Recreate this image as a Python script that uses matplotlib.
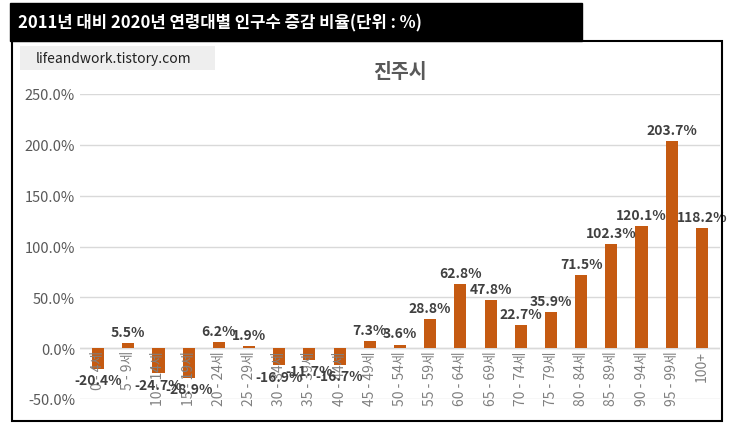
import matplotlib.pyplot as plt
from matplotlib.patches import Rectangle

plt.rcParams['font.family'] = ['Noto Sans CJK KR', 'DejaVu Sans']

categories = [f"{a} - {a + 4}세" for a in range(0, 100, 5)] + ["100+"]
values = [-20.4, 5.5, -24.7, -28.9, 6.2, 1.9, -16.9, -11.7, -16.7, 7.3, 3.6,
          28.8, 62.8, 47.8, 22.7, 35.9, 71.5, 102.3, 120.1, 203.7, 118.2]
yticks = [-50, 0, 50, 100, 150, 200, 250]

fig = plt.figure(figsize=(7.37, 4.31), dpi=100)

# outer frame and title box
fig.add_artist(Rectangle((12 / 737, 9 / 431), 710 / 737, 380 / 431,
                         transform=fig.transFigure, fill=False, lw=1.5, ec='black'))
fig.add_artist(Rectangle((10 / 737, 389 / 431), 572 / 737, 38 / 431,
                         transform=fig.transFigure, fc='black', ec='black'))
fig.text(18 / 737, 408 / 431, "2011년 대비 2020년 연령대별 인구수 증감 비율(단위 : %)",
         color='white', fontsize=12, fontweight='bold', va='center')
fig.add_artist(Rectangle((20 / 737, 360 / 431), 195 / 737, 24 / 431,
                         transform=fig.transFigure, fc='#eeeeee', ec='none'))
fig.text(36 / 737, 372 / 431, "lifeandwork.tistory.com", fontsize=10,
         style='italic', va='center', color='#222222')

ax = fig.add_axes([80 / 737, 31 / 431, 640 / 737, 305 / 431])
x = range(len(values))
ax.bar(x, values, width=0.4, color='#C55A11', zorder=2)
ax.set_ylim(-50, 250)
ax.set_xlim(-0.6, len(values) - 0.4)
ax.set_yticks(yticks)
ax.set_yticklabels([f"{v:.1f}%" for v in yticks], color='#595959', fontsize=10.5)
ax.set_xticks([])
ax.grid(axis='y', color='#d9d9d9', lw=1, zorder=0)
ax.axhline(0, color='#d9d9d9', lw=1, zorder=1)
for s in ax.spines.values():
    s.set_visible(False)
ax.tick_params(axis='y', length=0)
ax.set_title("진주시", fontsize=14, color='#595959', fontweight='bold', pad=12)

for i, (c, v) in enumerate(zip(categories, values)):
    ax.text(i, -2, c, rotation=90, ha='center', va='top', fontsize=10,
            color='#808080', clip_on=False, zorder=3)
    off = 4 if v >= 0 else -18
    ax.text(i, v + off, f"{v:.1f}%", ha='center', va='bottom', fontsize=10,
            fontweight='bold', color='#404040', zorder=4)

fig.savefig("out.png", dpi=100)
